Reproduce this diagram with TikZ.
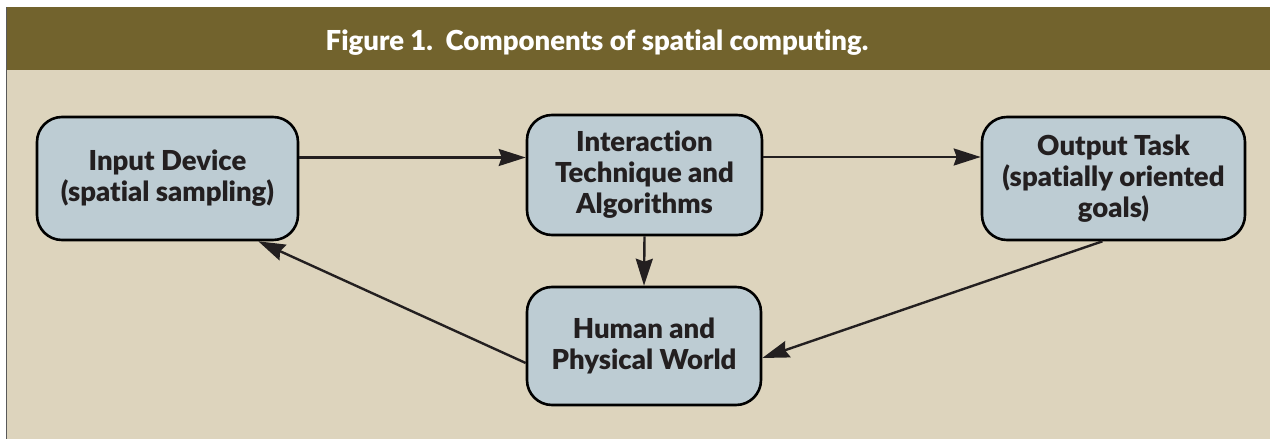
\documentclass[tikz,border=0pt]{standalone}
\usepackage{fontspec}
\setmainfont{Lato}[BoldFont={Lato Black},Ligatures=NoCommon]
\usetikzlibrary{arrows.meta,positioning,calc}
\definecolor{hdr}{HTML}{72632D}
\definecolor{bg}{HTML}{DDD4BD}
\definecolor{boxfill}{HTML}{BDCCD3}
\definecolor{ink}{HTML}{231F20}
\begin{document}
\begin{tikzpicture}[x=1pt,y=-1pt,
  compbox/.style={draw=black, line width=2.6pt, fill=boxfill, rounded corners=25pt,
    align=center, inner sep=0pt, font=\fontsize{27.5}{31}\selectfont\bfseries, text=ink},
  flow/.style={draw=ink, line width=2.4pt, -{Stealth[length=27pt,width=17pt,inset=3pt]}}]
  \useasboundingbox (0,0) rectangle (1270,439);
  \fill[white] (0,0) rectangle (1270,439);
  \fill[hdr] (6,7) rectangle (1270,70);
  \fill[bg] (6,70) rectangle (1270,439);
  \draw[gray!70!black, line width=1.5pt] (6.5,7) -- (6.5,439);
  \node[anchor=base, text=white, font=\fontsize{27.5}{30}\selectfont\bfseries] (title) at (597,50)
    {Figure 1.\ \ Components of spatial computing.};
  \node[compbox, minimum width=261pt, minimum height=123pt] (in) at (167.5,178.5)
    {Input Device\\(spatial sampling)};
  \node[compbox, minimum width=235pt, minimum height=120pt] (it) at (644.5,175)
    {Interaction\\Technique and\\Algorithms};
  \node[compbox, minimum width=263pt, minimum height=123pt] (out) at (1113.5,178.5)
    {Output Task\\(spatially oriented\\goals)};
  \node[compbox, minimum width=234pt, minimum height=118pt] (hum) at (644,346)
    {Human and\\Physical World};
  \draw[flow] ([yshift=21pt]in.east) -- ([yshift=21pt]in.east -| it.west);
  \draw[flow] ([yshift=18pt]it.east) -- ([yshift=18pt]it.east -| out.west);
  \draw[flow] (it.south) -- (hum.north);
  \draw[flow] ([xshift=-11pt]out.south) -- ([yshift=-12pt]hum.east);
  \draw[flow] ([yshift=-17pt]hum.west) -- ([xshift=-41pt]in.south east);
\end{tikzpicture}
\end{document}
